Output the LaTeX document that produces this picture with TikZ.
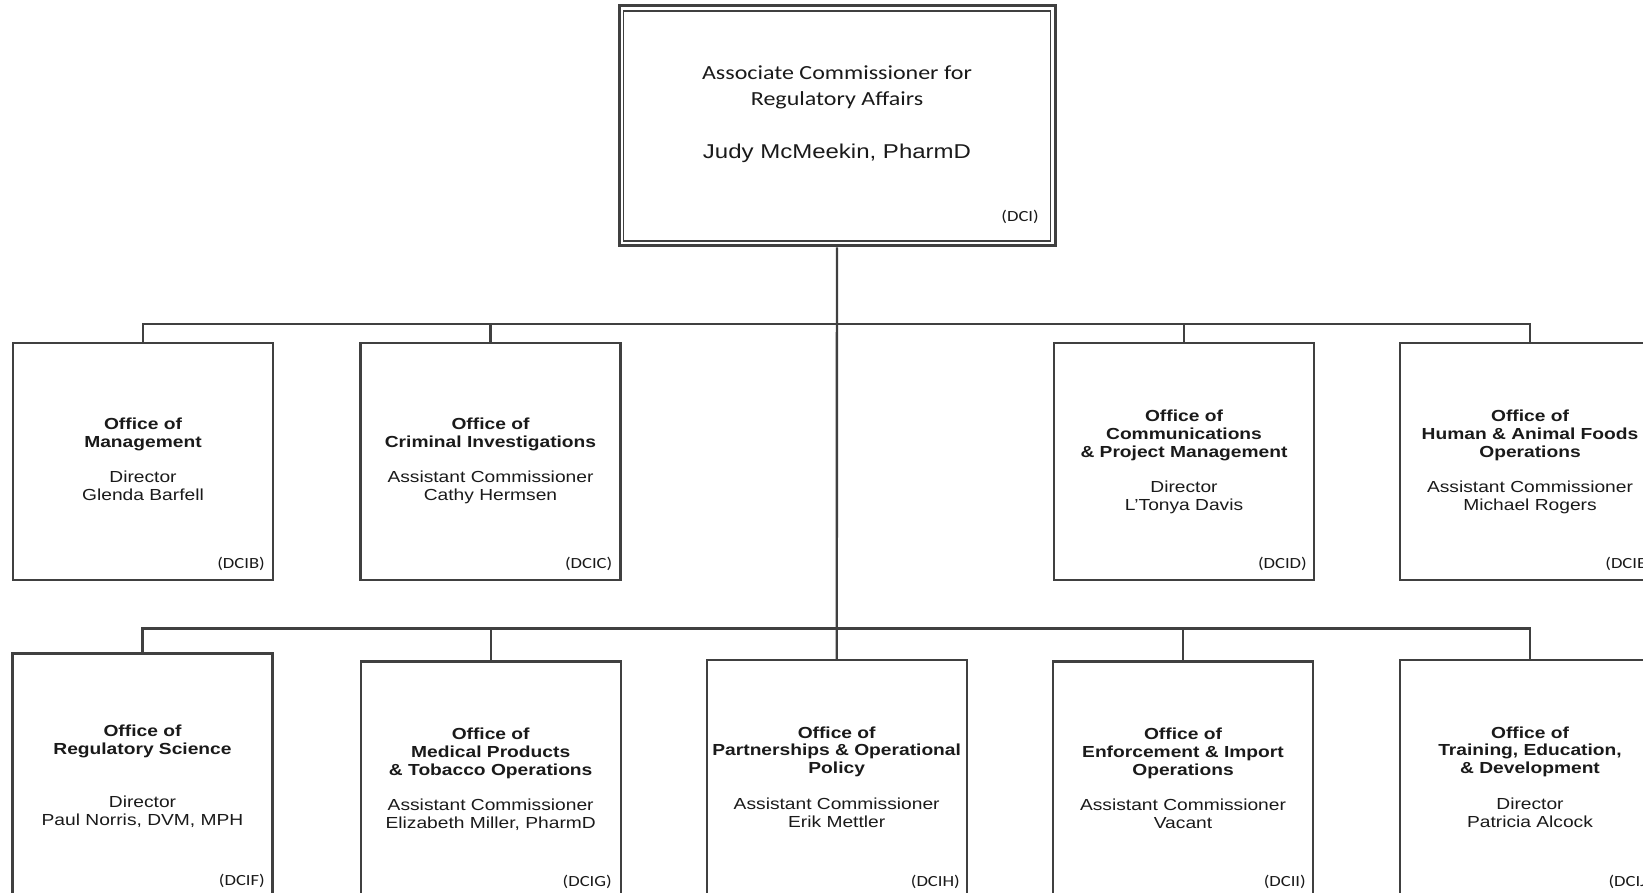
\documentclass[tikz,border=0pt]{standalone}
\usepackage{fontspec}
\setmainfont{Liberation Sans}[FakeStretch=1.2]
\newfontfamily\calib{Carlito}[FakeStretch=1.2]
\definecolor{rule}{HTML}{404040}
\definecolor{ink}{HTML}{1A1A1A}
% centred text block whose baseline is that of its first line
\newcommand\unittext[1]{\parbox[t]{258pt}{\centering\fontsize{16pt}{17.8pt}\selectfont #1}}

\begin{document}
\begin{tikzpicture}[x=1pt,y=-1pt,
  wire/.style={draw=rule, line width=2.4pt, line join=miter},
  unit/.style={draw=rule, line width=2.4pt, rectangle, inner sep=0pt,
               minimum width=260pt, minimum height=237pt},
  lowunit/.style={unit, minimum height=280pt},
  body/.style={anchor=base, inner sep=0pt, text=ink},
  code/.style={anchor=base east, inner sep=0pt, text=ink,
               font=\calib\fontsize{15.5pt}{18pt}\selectfont},
]
\useasboundingbox (0,0) rectangle (1643,893);
\fill[white] (0,0) rectangle (1643,893);
\clip (0,0) rectangle (1643,893);

% head office
\node[draw=rule, line width=3pt, rectangle, inner sep=0pt,
      minimum width=436pt, minimum height=240pt] (top) at (837,126) {};
\draw[draw=rule, line width=1.6pt]
  ([shift={(6,6.5)}]top.north west) rectangle ([shift={(-6,-6.5)}]top.south east);
\node[body] (topTitle) at (837,80)
  {\parbox[t]{400pt}{\centering\calib\fontsize{20pt}{26pt}\selectfont
   Associate Commissioner for\\Regulatory Affairs}};
\node[body, font=\fontsize{20pt}{24pt}\selectfont] (topName) at (837,158.5)
  {Judy McMeekin, PharmD};
\node[code] (topCode) at (1039,222) {(DCI)};

% upper row of offices
\node[unit] (B) at (143,461.5) {};
\node[unit] (C) at (490.5,461.5) {};
\node[unit] (D) at (1184,461.5) {};
\node[unit] (E) at (1530,461.5) {};

% lower row of offices
\node[lowunit] (F) at (142.5,793.5) {};
\node[lowunit] (G) at (490.7,801.5) {};
\node[lowunit] (H) at (836.7,800) {};
\node[lowunit] (I) at (1183,801.5) {};
\node[lowunit] (J) at (1530,800) {};

% connectors
\coordinate (bus1) at (837,324);
\coordinate (bus2) at (837,628.5);
\draw[wire] (top.south) -- (H.north);
\draw[wire] (B.north) |- (bus1) -| (E.north);
\draw[wire] (C.north) -- (C.north |- bus1);
\draw[wire] (D.north) -- (D.north |- bus1);
\draw[wire] (F.north) |- (bus2) -| (J.north);
\draw[wire] (G.north) -- (G.north |- bus2);
\draw[wire] (I.north) -- (I.north |- bus2);

% upper row texts
\node[body] (tB) at (143,429.5) {\unittext{\textbf{Office of}\\\textbf{Management}\\[17.8pt]Director\\Glenda Barfell}};
\node[body] (tC) at (490.5,429.5) {\unittext{\textbf{Office of}\\\textbf{Criminal Investigations}\\[17.8pt]Assistant Commissioner\\Cathy Hermsen}};
\node[body] (tD) at (1184,421.5) {\unittext{\textbf{Office of}\\\textbf{Communications}\\\textbf{\& Project Management}\\[17.8pt]Director\\L'Tonya Davis}};
\node[body] (tE) at (1530,421.5) {\unittext{\textbf{Office of}\\\textbf{Human \& Animal Foods}\\\textbf{Operations}\\[17.8pt]Assistant Commissioner\\Michael Rogers}};
\node[code] (cB) at (265,568) {(DCIB)};
\node[code] (cC) at (612.5,568) {(DCIC)};
\node[code] (cD) at (1307,568) {(DCID)};
\node[code] (cE) at (1652,568) {(DCIE)};

% lower row texts
\node[body] (tF) at (142.5,736.5) {\unittext{\textbf{Office of}\\\textbf{Regulatory Science}\\[35.6pt]Director\\Paul Norris, DVM, MPH}};
\node[body] (tG) at (490.7,739.5) {\unittext{\textbf{Office of}\\\textbf{Medical Products}\\\textbf{\& Tobacco Operations}\\[17.8pt]Assistant Commissioner\\Elizabeth Miller, PharmD}};
\node[body] (tH) at (836.7,738) {\unittext{\textbf{Office of}\\\textbf{Partnerships \& Operational}\\\textbf{Policy}\\[17.8pt]Assistant Commissioner\\Erik Mettler}};
\node[body] (tI) at (1183,739.5) {\unittext{\textbf{Office of}\\\textbf{Enforcement \& Import}\\\textbf{Operations}\\[17.8pt]Assistant Commissioner\\Vacant}};
\node[body] (tJ) at (1530,738) {\unittext{\textbf{Office of}\\\textbf{Training, Education,}\\\textbf{\& Development}\\[17.8pt]Director\\Patricia Alcock}};
\node[code] (cF) at (265,885) {(DCIF)};
\node[code] (cG) at (612,886) {(DCIG)};
\node[code] (cH) at (960,886) {(DCIH)};
\node[code] (cI) at (1306,886) {(DCII)};
\node[code] (cJ) at (1652,886) {(DCIJ)};
\end{tikzpicture}
\end{document}
